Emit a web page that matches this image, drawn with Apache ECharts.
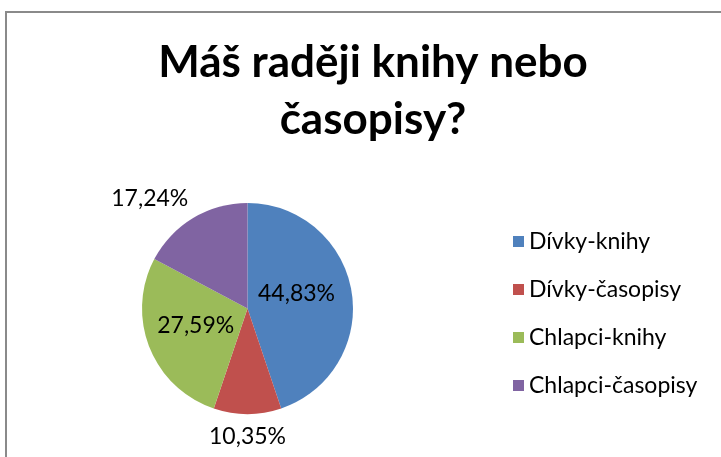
<!DOCTYPE html>
<html>
<head>
<meta charset="utf-8">
<script src="https://cdn.jsdelivr.net/npm/echarts@6/dist/echarts.min.js"></script>
<style>
  html, body { margin: 0; padding: 0; background: #fff; }
  #chart { width: 721px; height: 457px; }
</style>
</head>
<body>
<div id="chart"></div>
<script>
var categories = ['Dívky-knihy', 'Dívky-časopisy', 'Chlapci-knihy', 'Chlapci-časopisy'];
var values = [44.83, 10.35, 27.59, 17.24];
var colors = ['#4F81BD', '#C0504D', '#9BBB59', '#8064A2'];
var labelInside = [true, false, true, false];

var pieCenter = [247.5, 308.5];
var fontFam = 'Lato, "Open Sans", sans-serif';

var myChart = echarts.init(document.getElementById('chart'));

var pieData = categories.map(function (name, i) {
    var item = {
        name: name,
        value: values[i],
        itemStyle: { color: colors[i] }
    };
    if (!labelInside[i]) {
        item.label = { position: 'outside' };
        item.labelLine = { show: false, length: 23, length2: 0 };
    }
    return item;
});

var option = {
    backgroundColor: '#fff',
    animation: false,
    graphic: [{
        type: 'rect',
        shape: { x: 6, y: 12, width: 800, height: 600 },
        style: { fill: 'none', stroke: '#8a8a8a', lineWidth: 2 },
        silent: true
    }],
    title: {
        text: 'Máš raději knihy nebo\nčasopisy?',
        left: 368,
        top: 29,
        textAlign: 'center',
        textStyle: {
            fontFamily: fontFam,
            fontWeight: 'bold',
            fontSize: 44,
            lineHeight: 57,
            color: '#000'
        }
    },
    legend: {
        orient: 'vertical',
        left: 508,
        top: 225,
        itemWidth: 11,
        itemHeight: 11,
        itemGap: 25,
        icon: 'rect',
        selectedMode: false,
        data: categories,
        textStyle: {
            fontFamily: fontFam,
            fontSize: 23,
            lineHeight: 23,
            color: '#000'
        }
    },
    series: [{
        name: '',
        type: 'pie',
        center: pieCenter,
        radius: 105.5,
        startAngle: 90,
        clockwise: true,
        label: {
            show: true,
            position: 'inside',
            fontFamily: fontFam,
            fontSize: 23,
            color: '#000',
            formatter: function (p) {
                return p.value.toFixed(2).replace('.', ',') + '%';
            }
        },
        labelLine: { show: false },
        labelLayout: function (params) {
            var r = params.labelRect;
            if (params.dataIndex == 0) {
                return { dx: -6, dy: -6 };
            }
            if (params.dataIndex == 1) {
                // centre the bottom label under the pie
                return { dx: pieCenter[0] - (r.x + r.width / 2) };
            }
            if (params.dataIndex == 2) {
                return { dy: -4 };
            }
            if (params.dataIndex == 3) {
                return { dx: 12 };
            }
        },
        emphasis: { disabled: true },
        data: pieData
    }]
};

myChart.setOption(option);
</script>
</body>
</html>
